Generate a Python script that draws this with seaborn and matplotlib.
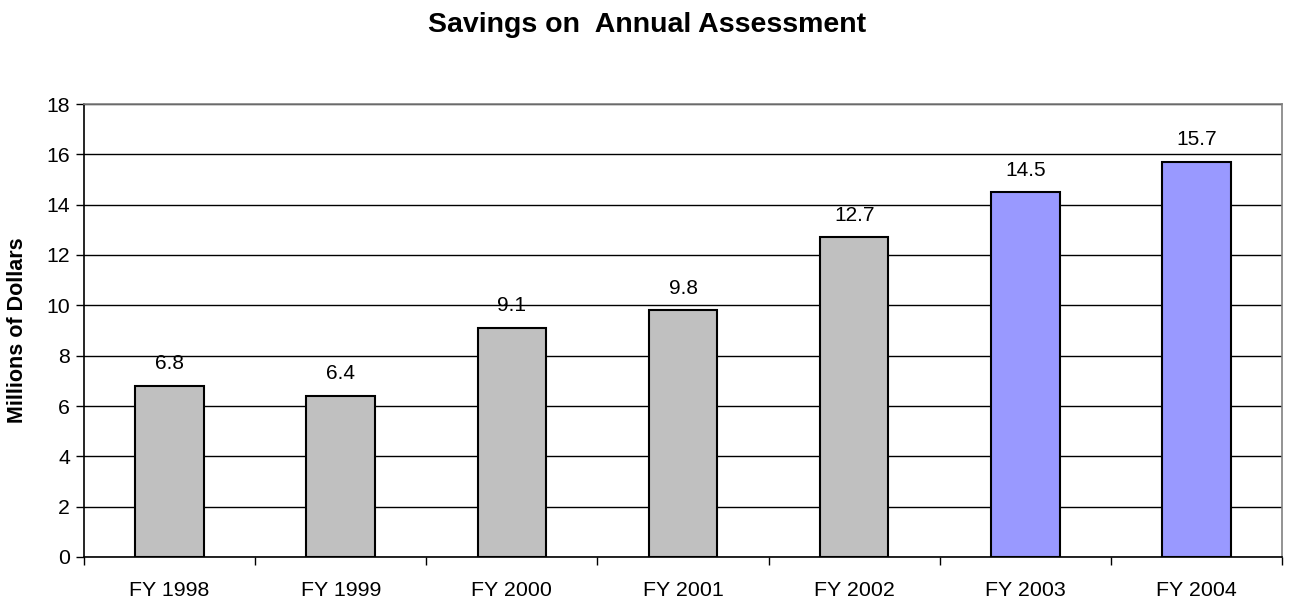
import matplotlib
matplotlib.use("Agg")
import matplotlib.pyplot as plt
from matplotlib.ticker import FixedLocator, NullFormatter, FixedFormatter
import seaborn as sns
import pandas as pd

# Savings per fiscal year, millions of dollars
years = ["FY 1998", "FY 1999", "FY 2000", "FY 2001", "FY 2002", "FY 2003", "FY 2004"]
savings = [6.8, 6.4, 9.1, 9.8, 12.7, 14.5, 15.7]
bar_colors = ["#C0C0C0", "#C0C0C0", "#C0C0C0", "#C0C0C0", "#C0C0C0", "#9999FF", "#9999FF"]
y_ticks = [0, 2, 4, 6, 8, 10, 12, 14, 16, 18]

sns.set_style("white")
plt.rcParams["font.family"] = ["Liberation Sans", "DejaVu Sans"]
plt.rcParams["text.color"] = "black"
plt.rcParams["axes.labelcolor"] = "black"
plt.rcParams["xtick.color"] = "black"
plt.rcParams["ytick.color"] = "black"

df = pd.DataFrame({"year": years, "savings": savings})

fig = plt.figure(figsize=(12.94, 6.03), dpi=100)
ax = fig.add_axes([84 / 1294, 1 - 557 / 603, (1282 - 84) / 1294, (557 - 104) / 603])

sns.barplot(data=df, x="year", y="savings", hue="year", palette=bar_colors,
            legend=False, width=0.4, edgecolor="black", linewidth=1.5,
            saturation=1, ax=ax, zorder=3)

ax.set_xlim(-0.5, len(years) - 0.5)
ax.set_ylim(0, 18)
ax.set_yticks(y_ticks)
ax.set_yticklabels([str(t) for t in y_ticks], fontsize=15.3, color="black")

# category labels sit between boundary tick marks
ax.xaxis.set_major_locator(FixedLocator([i - 0.5 for i in range(len(years) + 1)]))
ax.xaxis.set_major_formatter(NullFormatter())
ax.xaxis.set_minor_locator(FixedLocator(list(range(len(years)))))
ax.xaxis.set_minor_formatter(FixedFormatter(years))
ax.tick_params(axis="x", which="major", direction="out", length=6, width=1, color="black", bottom=True)
ax.tick_params(axis="x", which="minor", length=0, pad=17, labelsize=15.4, labelcolor="black")
ax.tick_params(axis="y", which="major", direction="out", length=6, width=1, color="black", left=True, pad=4)

ax.set_axisbelow(True)
ax.yaxis.grid(True, color="black", linewidth=1)
ax.xaxis.grid(False)

for side in ["left", "bottom"]:
    ax.spines[side].set_color("black")
    ax.spines[side].set_linewidth(1.2)
for side in ["top", "right"]:
    ax.spines[side].set_color("#808080")
    ax.spines[side].set_linewidth(1.2)

ax.set_xlabel("")
ax.set_ylabel("Millions of Dollars", fontsize=15.5, fontweight="bold", labelpad=13, color="black")

for container in ax.containers:
    ax.bar_label(container, fmt="%.1f", padding=9, fontsize=15, color="black")

fig.text(0.5, 1 - 32 / 603, "Savings on  Annual Assessment", ha="center", va="baseline",
         fontsize=20.5, fontweight="bold", color="black")

fig.savefig("out.png", dpi=100, facecolor="white")
